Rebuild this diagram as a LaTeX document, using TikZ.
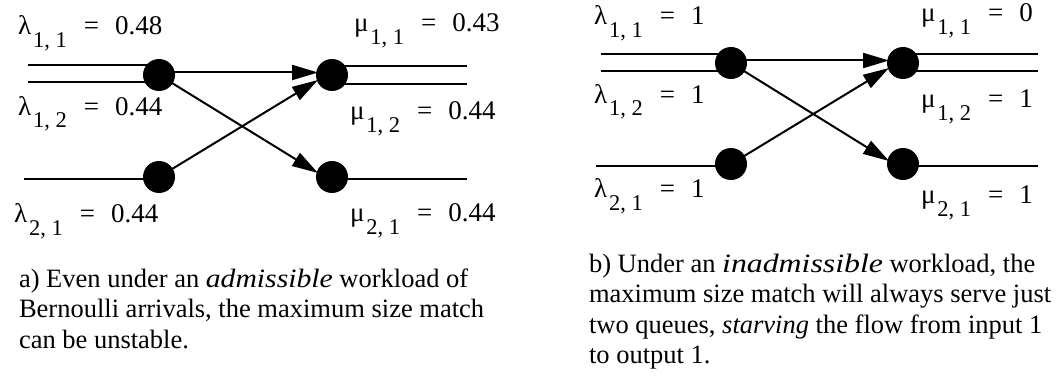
\documentclass[tikz,border=0pt]{standalone}
\usepackage{graphicx}
\usepackage{fontspec}
\setmainfont{Liberation Serif}
\usetikzlibrary{arrows.meta}
\newcommand\qlab[3]{{\fontsize{27}{27}\selectfont #1\hspace{2pt}\raisebox{-13pt}{\fontsize{22.5}{22.5}\selectfont #2}\hspace{17pt}=\hspace{16pt}#3}}
\newcommand\captext[1]{\fontsize{26.5}{30.5}\selectfont\begin{tabular}[t]{@{}l@{}}#1\end{tabular}}
\newcommand\wideit[2]{\scalebox{#1}[1]{\textit{#2}}}
\begin{document}
\begin{tikzpicture}[x=1pt,y=-1pt, line width=2pt,
  sw/.style={circle, fill=black, minimum size=32pt, inner sep=0pt},
  lbl/.style={anchor=base west, inner sep=0pt},
  capbox/.style={anchor=base west, inner sep=0pt},
  arr/.style={-{Triangle[length=26pt,width=15pt]}},
  halo/.style={white, line width=0.4pt, -{Triangle[length=31pt,width=22pt]}}]
\useasboundingbox (0,0) rectangle (1059,385);

% ---------- panel a ----------
\coordinate (aI1s) at (28,65);  \coordinate (aI1e) at (159,65);
\coordinate (aI2s) at (28,82);  \coordinate (aI2e) at (159,82);
\coordinate (aI3s) at (24,179); \coordinate (aI3e) at (159,179);
\coordinate (aO1s) at (332,66); \coordinate (aO1e) at (467,66);
\coordinate (aO2s) at (332,84); \coordinate (aO2e) at (467,84);
\coordinate (aO3s) at (332,179);\coordinate (aO3e) at (467,179);
\coordinate (aHs) at (159,72.5); \coordinate (aHe) at (318,72.5);
\coordinate (aUe) at (318,80);
\coordinate (aDe) at (318,173);
\coordinate (aL1c) at (159,75); \coordinate (aL2c) at (159,177);

\draw (aI1s) -- (aI1e);
\draw (aI2s) -- (aI2e);
\draw (aI3s) -- (aI3e);
\draw (aO1s) -- (aO1e);
\draw (aO2s) -- (aO2e);
\draw (aO3s) -- (aO3e);
\draw[arr] (aHs) -- (aHe);
\draw[halo] (aL2c) -- (aUe);
\draw[arr] (aL2c) -- (aUe);
\draw[arr] (aL1c) -- (aDe);

\node[sw] (aL1) at (aL1c) {};
\node[sw] (aL2) at (aL2c) {};
\node[sw] (aR1) at (332,75) {};
\node[sw] (aR2) at (332,177) {};

\node[lbl] (al11) at (17,35)  {\qlab{λ}{1, 1}{0.48}};
\node[lbl] (al12) at (17,115) {\qlab{λ}{1, 2}{0.44}};
\node[lbl] (al21) at (13,222) {\qlab{λ}{2, 1}{0.44}};
\node[lbl] (am11) at (353,32) {\qlab{μ}{1, 1}{0.43}};
\node[lbl] (am12) at (349,120){\qlab{μ}{1, 2}{0.44}};
\node[lbl] (am21) at (349,221){\qlab{μ}{2, 1}{0.44}};

\node[capbox] (acap) at (18,287) {\captext{a) Even under an \wideit{1.12}{admissible} workload of\\
Bernoulli arrivals, the maximum size match\\
can be unstable.}};

% ---------- panel b ----------
\coordinate (bI1s) at (601,54);  \coordinate (bI1e) at (731,54);
\coordinate (bI2s) at (601,71);  \coordinate (bI2e) at (731,71);
\coordinate (bI3s) at (596,166); \coordinate (bI3e) at (731,166);
\coordinate (bO1s) at (903,54);  \coordinate (bO1e) at (1038,54);
\coordinate (bO2s) at (903,71);  \coordinate (bO2e) at (1038,71);
\coordinate (bO3s) at (903,166); \coordinate (bO3e) at (1038,166);
\coordinate (bHs) at (731,60.5); \coordinate (bHe) at (889,60.5);
\coordinate (bUe) at (889,68);
\coordinate (bDe) at (889,161);
\coordinate (bL1c) at (731,63); \coordinate (bL2c) at (731,164);

\draw (bI1s) -- (bI1e);
\draw (bI2s) -- (bI2e);
\draw (bI3s) -- (bI3e);
\draw (bO1s) -- (bO1e);
\draw (bO2s) -- (bO2e);
\draw (bO3s) -- (bO3e);
\draw[arr] (bHs) -- (bHe);
\draw[halo] (bL2c) -- (bUe);
\draw[arr] (bL2c) -- (bUe);
\draw[arr] (bL1c) -- (bDe);

\node[sw] (bL1) at (bL1c) {};
\node[sw] (bL2) at (bL2c) {};
\node[sw] (bR1) at (903,63) {};
\node[sw] (bR2) at (903,164) {};

\node[lbl] (bl11) at (593,25)  {\qlab{λ}{1, 1}{1}};
\node[lbl] (bl12) at (593,103) {\qlab{λ}{1, 2}{1}};
\node[lbl] (bl21) at (593,197) {\qlab{λ}{2, 1}{1}};
\node[lbl] (bm11) at (920,22)  {\qlab{μ}{1, 1}{0}};
\node[lbl] (bm12) at (920,108) {\qlab{μ}{1, 2}{1}};
\node[lbl] (bm21) at (920,203) {\qlab{μ}{2, 1}{1}};

\node[capbox] (bcap) at (588,272) {\captext{b) Under an \wideit{1.2}{inadmissible} workload, the\\
maximum size match will always serve just\\
two queues, \textit{starving} the flow from input 1\\
to output 1.}};
\end{tikzpicture}
\end{document}
